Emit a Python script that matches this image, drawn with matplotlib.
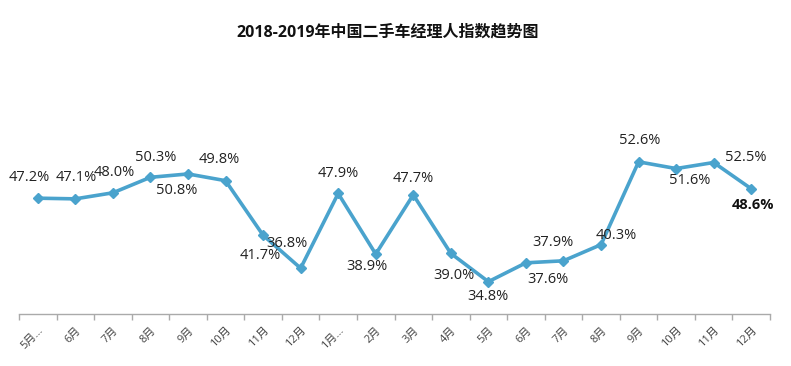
import matplotlib
matplotlib.use("Agg")
import matplotlib.pyplot as plt

plt.rcParams['font.family'] = ['Open Sans', 'Noto Sans CJK SC', 'DejaVu Sans']

months = ["5月...", "6月", "7月", "8月", "9月", "10月", "11月", "12月", "1月...", "2月",
          "3月", "4月", "5月", "6月", "7月", "8月", "9月", "10月", "11月", "12月"]
values = [47.2, 47.1, 48.0, 50.3, 50.8, 49.8, 41.7, 36.8, 47.9, 38.9,
          47.7, 39.0, 34.8, 37.6, 37.9, 40.3, 52.6, 51.6, 52.5, 48.6]
# label offsets in pixels (dx, dy)
offsets = [(-9, 21), (1, 21), (1, 20), (5, 20), (-11, -17), (-6, 21), (-3, -20), (-14, 25),
           (0, 20), (-9, -12), (0, 16), (3, -22), (0, -15), (22, -17), (-11, 18), (15, 9),
           (1, 21), (14, -12), (32, 5), (2, -16)]

W, H = 791, 366
fig = plt.figure(figsize=(W / 100, H / 100), dpi=100)
ax = fig.add_axes([19 / W, 1 - 314 / H, (770 - 19) / W, (314 - 112) / H])

x = list(range(len(values)))
color = '#4AA3CD'
ax.plot(x, values, color=color, lw=2.6, marker='D', ms=5.5, mec=color, mfc=color, zorder=3)

for i, (v, (dx, dy)) in enumerate(zip(values, offsets)):
    bold = (i == len(values) - 1)
    ax.annotate(f"{v:.1f}%", (i, v), xytext=(dx, dy), textcoords='offset pixels',
                ha='center', va='center', fontsize=10.5, color='#222222' if not bold else '#111111',
                fontweight='bold' if bold else 'normal')

ax.set_xlim(-0.5, len(values) - 0.5)
ax.set_ylim(30, 60)
ax.set_yticks([])
for s in ['top', 'right', 'left']:
    ax.spines[s].set_visible(False)
ax.spines['bottom'].set_color('#AAAAAA')
ax.spines['bottom'].set_linewidth(1)

ax.set_xticks(x)
ax.set_xticklabels(months, rotation=45, ha='right', rotation_mode='anchor',
                   fontsize=8, color='#444444')
ax.tick_params(axis='x', which='major', length=0, pad=8)
ax.set_xticks([i - 0.5 for i in range(len(values) + 1)], minor=True)
ax.tick_params(axis='x', which='minor', length=4, color='#AAAAAA', width=1)

fig.text(388 / W, 1 - 33 / H, "2018-2019年中国二手车经理人指数趋势图", ha='center', va='center',
         fontsize=11.5, fontweight='bold', color='#111111')

fig.savefig('out.png', dpi=100)
